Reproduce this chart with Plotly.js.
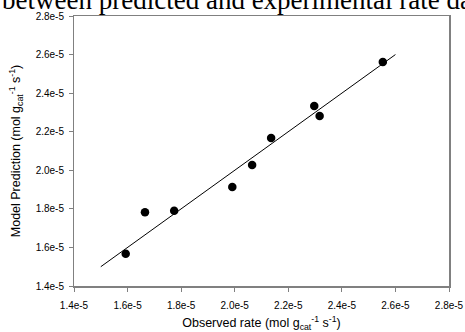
<!DOCTYPE html>
<html>
<head>
<meta charset="utf-8">
<script src="https://cdn.plot.ly/plotly-3.0.1.min.js"></script>
<style>html,body{margin:0;padding:0;background:#fff;}#chart{width:465px;height:332px;}</style>
</head>
<body>
<div id="chart"></div>
<script>
// Data
const observed = [1.593e-5, 1.665e-5, 1.774e-5, 1.991e-5, 2.065e-5, 2.136e-5, 2.297e-5, 2.317e-5, 2.553e-5];
const predicted = [1.567e-5, 1.782e-5, 1.790e-5, 1.913e-5, 2.027e-5, 2.167e-5, 2.333e-5, 2.282e-5, 2.562e-5];
const parityX = [1.5e-5, 2.6e-5];
const parityY = [1.5e-5, 2.6e-5];
const axisRange = [1.4e-5, 2.8e-5];
const tickVals = [1.4e-5, 1.6e-5, 1.8e-5, 2.0e-5, 2.2e-5, 2.4e-5, 2.6e-5, 2.8e-5];
const tickText = ["1.4e-5", "1.6e-5", "1.8e-5", "2.0e-5", "2.2e-5", "2.4e-5", "2.6e-5", "2.8e-5"];
const titleText = "between predicted and experimental rate data";

const tickFont = {family: 'Liberation Sans, Arial, sans-serif', size: 10, color: '#000'};
const titleFont = {family: 'Liberation Sans, Arial, sans-serif', size: 12.5, color: '#000'};

// visible frame axes with short ticks (no labels)
const frameAxis = {
  range: axisRange,
  tickmode: 'array',
  tickvals: tickVals,
  ticks: 'outside',
  ticklen: 4,
  tickwidth: 1,
  tickcolor: '#808080',
  showticklabels: false,
  showline: true,
  linecolor: '#808080',
  linewidth: 1.5,
  mirror: true,
  showgrid: false,
  zeroline: false
};
// label axes: invisible long ticks push the labels away from the frame
const labelAxis = {
  range: axisRange,
  tickmode: 'array',
  tickvals: tickVals,
  ticktext: tickText,
  ticks: 'outside',
  tickwidth: 1,
  tickcolor: 'rgba(0,0,0,0)',
  showline: false,
  showgrid: false,
  zeroline: false,
  tickfont: tickFont
};

const traces = [
  {x: parityX, y: parityY, mode: 'lines', line: {color: '#000', width: 1}, showlegend: false, hoverinfo: 'skip'},
  {x: observed, y: predicted, mode: 'markers', marker: {color: '#000', size: 8.5}, showlegend: false},
  {x: axisRange, y: axisRange, xaxis: 'x2', yaxis: 'y2', mode: 'markers', marker: {opacity: 0}, showlegend: false, hoverinfo: 'skip'}
];

const layout = {
  width: 465, height: 332,
  margin: {l: 74, r: 16, t: 16, b: 46},
  paper_bgcolor: '#fff', plot_bgcolor: '#fff',
  annotations: [{
    text: titleText,
    font: {family: 'Liberation Serif, Times New Roman, serif', size: 27, color: '#000'},
    xref: 'paper', yref: 'paper',
    x: -0.196, xanchor: 'left',
    y: 1.0, yanchor: 'bottom',
    showarrow: false, borderpad: 0
  }],
  xaxis: Object.assign({}, frameAxis, {
    title: {text: 'Observed rate (mol g<sub>cat</sub><sup>-1</sup> s<sup>-1</sup>)', font: titleFont, standoff: 28}
  }),
  yaxis: Object.assign({}, frameAxis, {
    title: {text: 'Model Prediction (mol g<sub>cat</sub><sup>-1</sup> s<sup>-1</sup>)', font: titleFont, standoff: 45}
  }),
  xaxis2: Object.assign({}, labelAxis, {overlaying: 'x', anchor: 'y', side: 'bottom', ticklen: 10}),
  yaxis2: Object.assign({}, labelAxis, {overlaying: 'y', anchor: 'x', side: 'left', ticklen: 7})
};

Plotly.newPlot('chart', traces, layout, {displayModeBar: false, staticPlot: true});
</script>
</body>
</html>
